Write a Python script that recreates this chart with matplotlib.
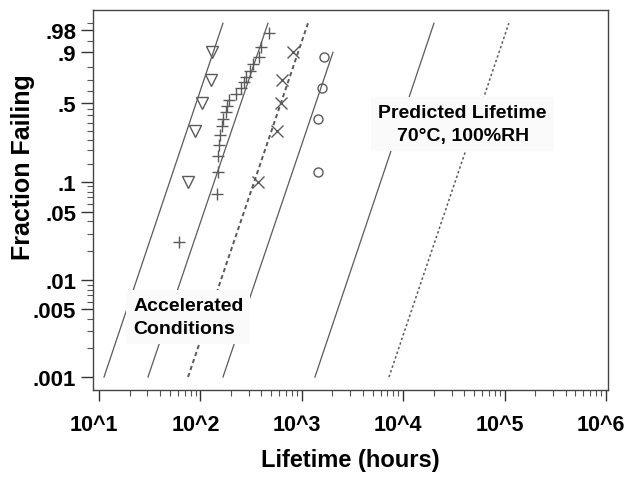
import numpy as np
import matplotlib
matplotlib.use("Agg")
import matplotlib.pyplot as plt
import matplotlib.transforms as mtrans
from matplotlib.ticker import FixedLocator, NullFormatter

plt.rcParams['font.family'] = ['Liberation Sans', 'DejaVu Sans']
plt.rcParams['font.weight'] = 'bold'

# fraction failing as plotted ((i-0.5)/n ranks), lifetimes in hours
tri_F = [0.1, 0.3, 0.5, 0.7, 0.9]
tri_t = [75.5, 88.5, 104, 127, 130]

plus_F = [(i - 0.5) / 20 for i in range(1, 21)]
plus_t = [61.5, 146, 149, 149, 153, 156, 163, 167, 179, 183,
          192, 224, 251, 269, 282, 308, 330, 379, 396, 475]

x_F = [0.1, 0.3, 0.5, 0.7, 0.9]
x_t = [370, 569, 623, 638, 818]

circ_F = [0.125, 0.375, 0.625, 0.875]
circ_t = [1444, 1444, 1581, 1656]

# fitted Weibull lines: (t at F_lo, t at F_hi)
line_F = [(0.001, 0.99), (0.001, 0.99), (0.001, 0.99),
          (0.001, 0.90), (0.001, 0.99), (0.001, 0.99)]
line_t = [(11.2, 167), (30.4, 464), (75.5, 1151),
          (167, 2032), (1349, 20140), (7245, 110400)]
line_ls = ['-', '-', (0, (2.2, 1.6)), '-', '-', (0, (1.6, 1.6))]
line_lw = [0.9, 0.9, 1.4, 0.9, 0.9, 1.1]

y_major = [0.001, 0.005, 0.01, 0.05, 0.1, 0.5, 0.9, 0.98]
y_labels = ['.001', '.005', '.01', '.05', '.1', '.5', '.9', '.98']
y_minor = [0.002, 0.003, 0.004, 0.006, 0.007, 0.008, 0.009,
           0.02, 0.03, 0.04, 0.06, 0.07, 0.08, 0.09,
           0.15, 0.2, 0.25, 0.3, 0.35, 0.4, 0.45, 0.6, 0.7, 0.8, 0.95, 0.99]
x_major = [1e1, 1e2, 1e3, 1e4, 1e5, 1e6]
x_labels = ['10^1', '10^2', '10^3', '10^4', '10^5', '10^6']


def weib(F):
    F = np.clip(np.asarray(F, dtype=float), 1e-12, 1 - 1e-12)
    return np.log(-np.log1p(-F))


def weib_inv(y):
    return -np.expm1(-np.exp(np.asarray(y, dtype=float)))


fig = plt.figure(figsize=(6.28, 4.81), dpi=100)
ax = fig.add_axes([0.148, 0.187, 0.820, 0.790])
ax.set_xscale('log')
ax.set_yscale('function', functions=(weib, weib_inv))

gray = '#5a5a5a'
for (f0, f1), (t0, t1), ls, lw in zip(line_F, line_t, line_ls, line_lw):
    ax.plot([t0, t1], [f0, f1], color=gray, ls=ls, lw=lw, zorder=2)

mk = dict(color=gray, ls='none', zorder=3)
ax.plot(tri_t, tri_F, marker='v', ms=8.5, mfc='none', mew=1.0, **mk)
ax.plot(plus_t, plus_F, marker='+', ms=8, mew=1.0, **mk)
ax.plot(x_t, x_F, marker='x', ms=8, mew=1.0, **mk)
ax.plot(circ_t, circ_F, marker='o', ms=6.5, mfc='none', mew=1.0, **mk)

ax.set_xlim(10 ** 0.94, 10 ** 6.02)
ax.set_ylim(weib_inv(-7.217), weib_inv(1.841))

ax.xaxis.set_major_locator(FixedLocator(x_major))
ax.set_xticklabels(x_labels)
ax.xaxis.set_minor_locator(FixedLocator(
    [m * 10 ** d for d in range(1, 6) for m in range(2, 10)]))
ax.xaxis.set_minor_formatter(NullFormatter())
ax.yaxis.set_major_locator(FixedLocator(y_major))
ax.set_yticklabels(y_labels)
ax.yaxis.set_minor_locator(FixedLocator(y_minor))
ax.yaxis.set_minor_formatter(NullFormatter())

ax.tick_params(axis='x', which='major', length=8, width=1, pad=9,
               labelsize=15.5, colors='#333333', labelcolor='black')
ax.tick_params(axis='y', which='major', length=9, width=1, pad=3,
               labelsize=16, colors='#333333', labelcolor='black')
ax.tick_params(which='minor', length=4, width=0.8, colors='#555555')
for sp in ax.spines.values():
    sp.set_color('#444444')
    sp.set_linewidth(1.0)

# x tick labels sit slightly left of their ticks in the reference
shift = mtrans.ScaledTranslation(-5 / 100, 0, fig.dpi_scale_trans)
for lbl in ax.get_xticklabels():
    lbl.set_transform(lbl.get_transform() + shift)

ax.text(-0.135, 0.589, 'Fraction Failing', transform=ax.transAxes,
        rotation=90, ha='center', va='center', fontsize=18, fontweight='bold')
ax.text(0.5, -0.182, 'Lifetime (hours)', transform=ax.transAxes,
        ha='center', va='center', fontsize=17, fontweight='bold')

box = dict(facecolor='#fafafa', edgecolor='none', pad=5)
ax.text(0.078, 0.192, 'Accelerated\nConditions', transform=ax.transAxes,
        ha='left', va='center', fontsize=14, fontweight='bold',
        linespacing=1.45, bbox=box, zorder=5)
ax.text(0.718, 0.700, 'Predicted Lifetime\n70°C, 100%RH', transform=ax.transAxes,
        ha='center', va='center', fontsize=14, fontweight='bold',
        linespacing=1.45, multialignment='center', bbox=box, zorder=5)

fig.savefig('out.png', dpi=100)
